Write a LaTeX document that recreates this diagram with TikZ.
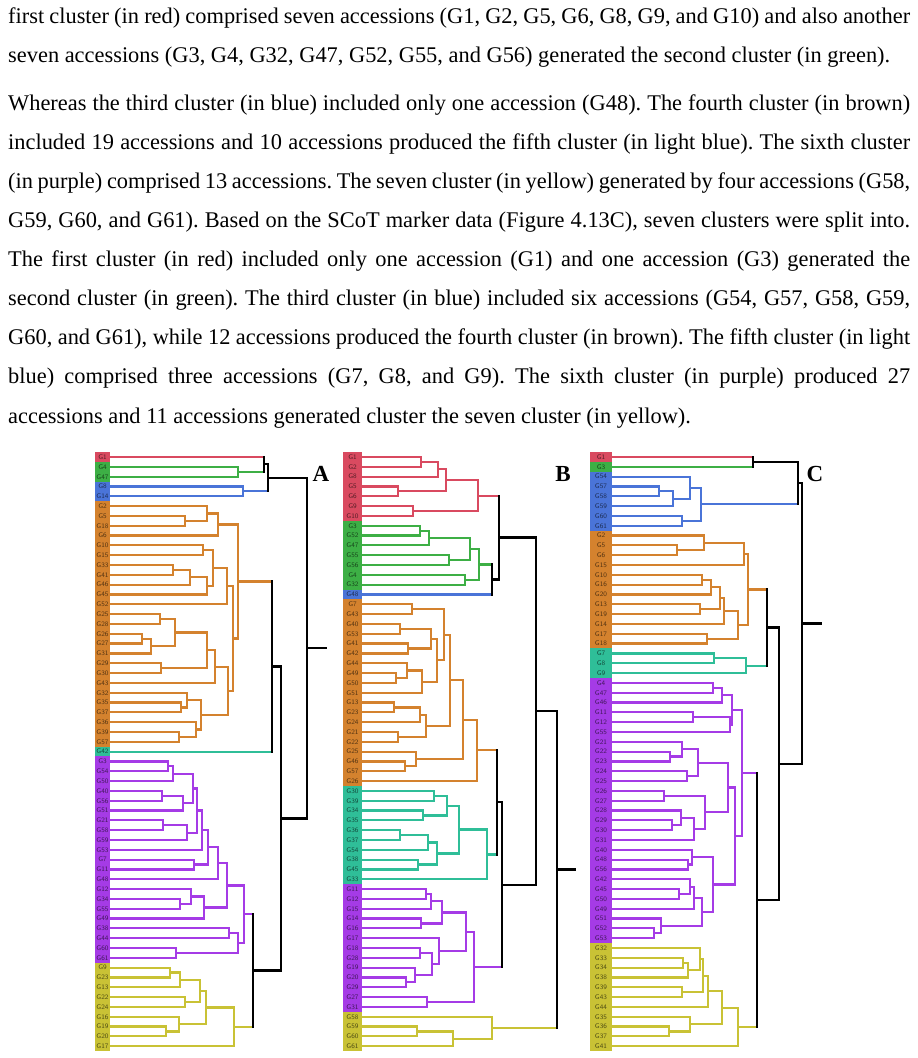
\documentclass[tikz,border=0pt]{standalone}
\usepackage{fontspec}
\setmainfont{Liberation Serif}
\usetikzlibrary{calc}
\definecolor{cred}{HTML}{D94A60}
\definecolor{cgrn}{HTML}{3DAF45}
\definecolor{cblu}{HTML}{4A74D8}
\definecolor{corg}{HTML}{D4822E}
\definecolor{ctel}{HTML}{2FBE98}
\definecolor{cpur}{HTML}{A53BE6}
\definecolor{cyel}{HTML}{C9C235}
\tikzset{br/.style={line width=2.2pt,line cap=rect,line join=miter},
 lab/.style={inner sep=0pt,font=\sffamily\fontsize{6.8}{6.8}\selectfont},
 txt/.style={anchor=base west,inner sep=0pt,font=\fontsize{22.4}{22.4}\selectfont},
 plet/.style={inner sep=0pt,font=\bfseries\fontsize{23}{23}\selectfont}}
\newcommand\lv[6]{%
 \foreach \lab [count=\i from #2] in {#6} {
  \pgfmathsetmacro\yy{457+9.82*(\i-1)}
  \fill[#3] (#4,{\yy-4.95}) rectangle (#5,{\yy+4.95});
  \node[lab,text=#3!40!black] at ({(#4+#5)/2},\yy) {\lab};
  \coordinate (#1\i) at (#5,\yy);
 }}
\newcommand\mg[5]{%
 \draw[br,#1] let \p1=(#3),\p2=(#4) in (\p1) -- (#5pt,\y1) -- (#5pt,\y2) -- (\p2);
 \path let \p1=(#3),\p2=(#4) in coordinate (#2) at (#5pt,{(\y1+\y2)/2});}
\newcommand\mgb[6]{%
 \draw[br,#3] let \p1=(#2) in (\p1) -- (#6pt,\y1);
 \draw[br,#5] let \p2=(#4) in (\p2) -- (#6pt,\y2);
 \draw[br,black] let \p1=(#2),\p2=(#4) in (#6pt,\y1) -- (#6pt,\y2);
 \path let \p1=(#2),\p2=(#4) in coordinate (#1) at (#6pt,{(\y1+\y2)/2});}
\begin{document}
\frenchspacing
\begin{tikzpicture}[x=1pt,y=-1pt]
\useasboundingbox[fill=white] (0,0) rectangle (918,1058);
% ---------- text ----------
\node[txt] (l1) at (8,23) {\makebox[902pt][s]{first cluster (in red) comprised seven accessions (G1, G2, G5, G6, G8, G9, and G10) and also another}};
\node[txt] (l2) at (8,62) {seven accessions (G3, G4, G32, G47, G52, G55, and G56) generated the second cluster (in green).};
\node[txt] (l3) at (8,110) {\makebox[902pt][s]{Whereas the third cluster (in blue) included only one accession (G48). The fourth cluster (in brown)}};
\node[txt] (l4) at (8,149) {\makebox[902pt][s]{included 19 accessions and 10 accessions produced the fifth cluster (in light blue). The sixth cluster}};
\node[txt] (l5) at (8,188) {\makebox[902pt][s]{(in purple) comprised 13 accessions. The seven cluster (in yellow) generated by four accessions (G58,}};
\node[txt] (l6) at (8,227) {\makebox[902pt][s]{G59, G60, and G61). Based on the SCoT marker data (Figure 4.13C), seven clusters were split into.}};
\node[txt] (l7) at (8,266) {\makebox[902pt][s]{The first cluster (in red) included only one accession (G1) and one accession (G3) generated the}};
\node[txt] (l8) at (8,305) {\makebox[902pt][s]{second cluster (in green). The third cluster (in blue) included six accessions (G54, G57, G58, G59,}};
\node[txt] (l9) at (8,344) {\makebox[902pt][s]{G60, and G61), while 12 accessions produced the fourth cluster (in brown). The fifth cluster (in light}};
\node[txt] (l10) at (8,383) {\makebox[902pt][s]{blue) comprised three accessions (G7, G8, and G9). The sixth cluster (in purple) produced 27}};
\node[txt] (l11) at (8,423) {accessions and 11 accessions generated cluster the seven cluster (in yellow).};
% ---------- panel A ----------
\lv{A}{1}{cred}{95}{110}{G1}
\lv{A}{2}{cgrn}{95}{110}{G4,G47}
\lv{A}{4}{cblu}{95}{110}{G8,G14}
\lv{A}{6}{corg}{95}{110}{G2,G5,G18,G6,G10,G15,G33,G41,G46,G45,G52,G25,G28,G26,G27,G31,G29,G30,G43,G32,G35,G37,G36,G39,G57}
\lv{A}{31}{ctel}{95}{110}{G42}
\lv{A}{32}{cpur}{95}{110}{G3,G54,G50,G40,G56,G51,G21,G58,G59,G53,G7,G11,G48,G12,G34,G55,G49,G38,G44,G60,G61}
\lv{A}{53}{cyel}{95}{110}{G9,G23,G13,G22,G24,G16,G19,G20,G17}
\mg{corg}{Ao1}{A7}{A8}{185}
\mg{corg}{Ao2}{A6}{Ao1}{207}
\mg{corg}{Ao3}{Ao2}{A9}{218}
\mg{corg}{Ao4}{A10}{A11}{203}
\mg{corg}{Ao5}{A12}{A13}{173}
\mg{corg}{Ao6}{Ao5}{A14}{190}
\mg{corg}{Ao7}{Ao6}{A15}{207}
\mg{corg}{Ao8}{Ao4}{Ao7}{213}
\mg{corg}{Ao9}{Ao8}{A16}{227}
\mg{corg}{Ap1}{A17}{A18}{160}
\mg{corg}{Ap2}{A19}{A20}{142}
\mg{corg}{Ap3}{Ap2}{A21}{151}
\mg{corg}{Ap4}{Ap1}{Ap3}{175}
\mg{corg}{Ap5}{A22}{A23}{161}
\mg{corg}{Ap6}{Ap4}{Ap5}{207}
\mg{corg}{AS}{Ap6}{A24}{215}
\mg{corg}{Aq1}{A26}{A27}{181}
\mg{corg}{Aq2}{A25}{Aq1}{187}
\mg{corg}{Aq3}{A29}{A30}{179}
\mg{corg}{Aq4}{A28}{Aq3}{196}
\mg{corg}{AT}{Aq2}{Aq4}{201}
\mg{corg}{AR}{AS}{AT}{228}
\mg{corg}{AQ}{Ao9}{AR}{233}
\mg{corg}{AO}{Ao3}{AQ}{238}
\mg{cpur}{Au1}{A32}{A33}{168}
\mg{cpur}{Au2}{Au1}{A34}{173}
\mg{cpur}{Au3}{A35}{A36}{162}
\mg{cpur}{Au4}{Au3}{A37}{183}
\mg{cpur}{Au5}{Au2}{Au4}{193}
\mg{cpur}{Au6}{A38}{A39}{163}
\mg{cpur}{Au7}{Au6}{A40}{187}
\mg{cpur}{Au8}{Au5}{Au7}{197}
\mg{cpur}{Au9}{Au8}{A41}{202}
\mg{cpur}{Au10}{A42}{A43}{194}
\mg{cpur}{Au11}{Au9}{Au10}{208}
\mg{cpur}{Au12}{Au11}{A44}{218}
\mg{cpur}{Au13}{A46}{A47}{180}
\mg{cpur}{Au14}{A45}{Au13}{191}
\mg{cpur}{Au15}{Au14}{A48}{204}
\mg{cpur}{Au16}{Au12}{Au15}{227}
\mg{cpur}{Au17}{A49}{A50}{229}
\mg{cpur}{Au18}{A51}{A52}{176}
\mg{cpur}{Au19}{Au17}{Au18}{238}
\mg{cpur}{AP}{Au16}{Au19}{244}
\mg{cyel}{Ay1}{A53}{A54}{170}
\mg{cyel}{Ay2}{Ay1}{A55}{180}
\mg{cyel}{Ay3}{A56}{A57}{185}
\mg{cyel}{Ay4}{Ay2}{Ay3}{200}
\mg{cyel}{Ay5}{A59}{A60}{166}
\mg{cyel}{Ay6}{A58}{Ay5}{179}
\mg{cyel}{Ay7}{Ay4}{Ay6}{206}
\mg{cyel}{AY}{Ay7}{A61}{234}
\mg{cgrn}{Ag1}{A2}{A3}{238}
\mgb{At1}{A1}{cred}{Ag1}{cgrn}{264}
\mg{cblu}{Ab1}{A4}{A5}{243}
\mgb{AT0}{At1}{black}{Ab1}{cblu}{268}
\mgb{AOX}{AO}{corg}{A31}{ctel}{272}
\mgb{APY}{AP}{cpur}{AY}{cyel}{253}
\mgb{AL}{AOX}{black}{APY}{black}{281}
\mgb{Aroot}{AT0}{black}{AL}{black}{307}
\coordinate (Astub) at ($(Aroot)+(19,0)$);
\draw[br] (Aroot) -- (Astub);
\node[plet] (pA) at (321,474) {A};
% ---------- panel B ----------
\lv{B}{1}{cred}{343}{362}{G1,G2,G8,G5,G6,G9,G10}
\lv{B}{8}{cgrn}{343}{362}{G3,G52,G47,G55,G56,G4,G32}
\lv{B}{15}{cblu}{343}{362}{G48}
\lv{B}{16}{corg}{343}{362}{G7,G43,G40,G53,G41,G42,G44,G49,G50,G51,G13,G23,G24,G21,G22,G25,G46,G57,G26}
\lv{B}{35}{ctel}{343}{362}{G30,G39,G34,G35,G36,G37,G54,G38,G45,G33}
\lv{B}{45}{cpur}{343}{362}{G11,G12,G15,G14,G16,G17,G18,G28,G19,G20,G29,G27,G31}
\lv{B}{58}{cyel}{343}{362}{G58,G59,G60,G61}
\mg{cred}{Br1}{B1}{B2}{421}
\mg{cred}{Br2}{Br1}{B3}{438}
\mg{cred}{Br3}{B4}{B5}{398}
\mg{cred}{Br4}{Br2}{Br3}{446}
\mg{cred}{Br5}{B6}{B7}{413}
\mg{cred}{BR}{Br4}{Br5}{478}
\mg{cgrn}{Bg1}{B8}{B9}{420}
\mg{cgrn}{Bg2}{Bg1}{B10}{429}
\mg{cgrn}{Bg3}{B11}{B12}{449}
\mg{cgrn}{Bg4}{Bg2}{Bg3}{470}
\mg{cgrn}{Bg5}{B13}{B14}{465}
\mg{cgrn}{BG}{Bg4}{Bg5}{479}
\mgb{BGB}{BG}{cgrn}{B15}{cblu}{492}
\mgb{BRGB}{BR}{cred}{BGB}{black}{499}
\mg{corg}{Ba1}{B16}{B17}{412}
\mg{corg}{Ba2}{B18}{B19}{400}
\mg{corg}{Ba3}{B20}{B21}{408}
\mg{corg}{Ba4}{Ba2}{Ba3}{431}
\mg{corg}{Ba5}{B23}{B24}{396}
\mg{corg}{Ba6}{B22}{Ba5}{407}
\mg{corg}{Ba7}{Ba6}{B25}{422}
\mg{corg}{Ba8}{Ba4}{Ba7}{437}
\mg{corg}{Ba9}{Ba1}{Ba8}{444}
\mg{corg}{Ba10}{B26}{B27}{394}
\mg{corg}{Ba12}{Ba10}{B28}{420}
\mg{corg}{Ba11}{B29}{B30}{398}
\mg{corg}{Ba13}{Ba12}{Ba11}{426}
\mg{corg}{Ba14}{Ba9}{Ba13}{450}
\mg{corg}{Ba15}{B32}{B33}{405}
\mg{corg}{Ba16}{B31}{Ba15}{416}
\mg{corg}{Ba17}{Ba14}{Ba16}{463}
\mg{corg}{BO}{Ba17}{B34}{477}
\mg{ctel}{Bc1}{B35}{B36}{434}
\mg{ctel}{Bc2}{B37}{B38}{423}
\mg{ctel}{Bc3}{Bc1}{Bc2}{447}
\mg{ctel}{Bc4}{B39}{B40}{400}
\mg{ctel}{Bc5}{Bc4}{B41}{428}
\mg{ctel}{Bc6}{B42}{B43}{418}
\mg{ctel}{Bc7}{Bc5}{Bc6}{437}
\mg{ctel}{Bc8}{Bc3}{Bc7}{459}
\mg{ctel}{BC}{Bc8}{B44}{487}
\mgb{BOC}{BO}{corg}{BC}{ctel}{497}
\mg{cpur}{Bd1}{B45}{B46}{426}
\mg{cpur}{Bd2}{Bd1}{B47}{431}
\mg{cpur}{Bd3}{B48}{B49}{421}
\mg{cpur}{Bd4}{Bd2}{Bd3}{442}
\mg{cpur}{Bd5}{B51}{B52}{420}
\mg{cpur}{Bd6}{B54}{B55}{406}
\mg{cpur}{Bd7}{B53}{Bd6}{415}
\mg{cpur}{Bd8}{Bd5}{Bd7}{432}
\mg{cpur}{Bd9}{B50}{Bd8}{439}
\mg{cpur}{Bd10}{Bd4}{Bd9}{466}
\mg{cpur}{Bd11}{B56}{B57}{427}
\mg{cpur}{BD}{Bd10}{Bd11}{474}
\mgb{BOCD}{BOC}{black}{BD}{cpur}{502}
\mgb{BU}{BRGB}{black}{BOCD}{black}{536}
\mg{cyel}{Be1}{B59}{B60}{417}
\mg{cyel}{Be2}{Be1}{B61}{453}
\mg{cyel}{BY}{B58}{Be2}{492}
\mgb{Broot}{BU}{black}{BY}{cyel}{557}
\coordinate (Bstub) at ($(Broot)+(18,0)$);
\draw[br] (Broot) -- (Bstub);
\node[plet] (pB) at (563,474) {B};
% ---------- panel C ----------
\lv{C}{1}{cred}{590}{612}{G1}
\lv{C}{2}{cgrn}{590}{612}{G3}
\lv{C}{3}{cblu}{590}{612}{G54,G57,G58,G59,G60,G61}
\lv{C}{9}{corg}{590}{612}{G2,G5,G6,G15,G10,G16,G20,G13,G19,G14,G17,G18}
\lv{C}{21}{ctel}{590}{612}{G7,G8,G9}
\lv{C}{24}{cpur}{590}{612}{G4,G47,G46,G11,G12,G55,G21,G22,G23,G24,G25,G26,G27,G28,G29,G30,G31,G40,G48,G56,G42,G45,G50,G49,G51,G52,G53}
\lv{C}{51}{cyel}{590}{612}{G32,G33,G34,G38,G39,G43,G44,G35,G36,G37,G41}
\mgb{Ct}{C1}{cred}{C2}{cgrn}{753}
\mg{cblu}{Cb1}{C4}{C5}{659}
\mg{cblu}{Cb2}{Cb1}{C6}{673}
\mg{cblu}{Cb3}{C3}{Cb2}{690}
\mg{cblu}{Cb4}{C7}{C8}{682}
\mg{cblu}{CB}{Cb3}{Cb4}{701}
\mgb{CTB}{Ct}{black}{CB}{cblu}{798}
\mg{corg}{Co1}{C10}{C11}{677}
\mg{corg}{Co2}{C9}{Co1}{704}
\mg{corg}{Co3}{Co2}{C12}{744}
\mg{corg}{Co4}{C13}{C14}{702}
\mg{corg}{Co5}{Co4}{C15}{711}
\mg{corg}{Co6}{C16}{C17}{700}
\mg{corg}{Co7}{Co5}{Co6}{720}
\mg{corg}{Co8}{Co7}{C18}{724}
\mg{corg}{Co9}{C19}{C20}{707}
\mg{corg}{Co10}{Co8}{Co9}{738}
\mg{corg}{CO}{Co3}{Co10}{748}
\mg{ctel}{Cc1}{C21}{C22}{714}
\mg{ctel}{CC}{Cc1}{C23}{746}
\mgb{COC}{CO}{corg}{CC}{ctel}{767}
\mg{cpur}{Cp1}{C24}{C25}{713}
\mg{cpur}{Cp2}{Cp1}{C26}{722}
\mg{cpur}{Cp3}{C27}{C28}{693}
\mg{cpur}{Cp4}{Cp3}{C29}{730}
\mg{cpur}{Cp5}{Cp2}{Cp4}{732}
\mg{cpur}{Cq1}{C31}{C32}{670}
\mg{cpur}{Cq2}{C30}{Cq1}{682}
\mg{cpur}{Cq3}{C33}{C34}{687}
\mg{cpur}{Cq4}{Cq2}{Cq3}{698}
\mg{cpur}{Cq5}{C35}{C36}{664}
\mg{cpur}{Cq6}{C38}{C39}{672}
\mg{cpur}{Cq7}{C37}{Cq6}{681}
\mg{cpur}{Cq8}{Cq7}{C40}{694}
\mg{cpur}{Cq9}{Cq5}{Cq8}{705}
\mg{cpur}{Cq10}{Cq4}{Cq9}{728}
\mg{cpur}{Cr1}{C42}{C43}{688}
\mg{cpur}{Cr2}{C41}{Cr1}{692}
\mg{cpur}{Cr3}{C45}{C46}{679}
\mg{cpur}{Cr4}{C44}{Cr3}{690}
\mg{cpur}{Cr5}{Cr4}{C47}{694}
\mg{cpur}{Cr6}{C49}{C50}{654}
\mg{cpur}{Cr7}{C48}{Cr6}{661}
\mg{cpur}{Cr8}{Cr5}{Cr7}{702}
\mg{cpur}{Cr9}{Cr2}{Cr8}{713}
\mg{cpur}{Cq11}{Cq10}{Cr9}{735}
\mg{cpur}{CP}{Cp5}{Cq11}{742}
\mg{cyel}{Cs1}{C52}{C53}{683}
\mg{cyel}{Cs2}{Cs1}{C54}{688}
\mg{cyel}{Cs3}{C51}{Cs2}{700}
\mg{cyel}{Cs4}{C55}{C56}{682}
\mg{cyel}{Cs5}{Cs3}{Cs4}{703}
\mg{cyel}{Cs6}{Cs5}{C57}{708}
\mg{cyel}{Cs7}{C59}{C60}{669}
\mg{cyel}{Cs8}{C58}{Cs7}{690}
\mg{cyel}{Cs9}{Cs6}{Cs8}{722}
\mg{cyel}{CY}{Cs9}{C61}{738}
\mgb{CPY}{CP}{cpur}{CY}{cyel}{757}
\mgb{CL}{COC}{black}{CPY}{black}{779}
\mgb{Croot}{CTB}{black}{CL}{black}{802}
\coordinate (Cstub) at ($(Croot)+(19,0)$);
\draw[br] (Croot) -- (Cstub);
\node[plet] (pC) at (815,474) {C};
\end{tikzpicture}
\end{document}
